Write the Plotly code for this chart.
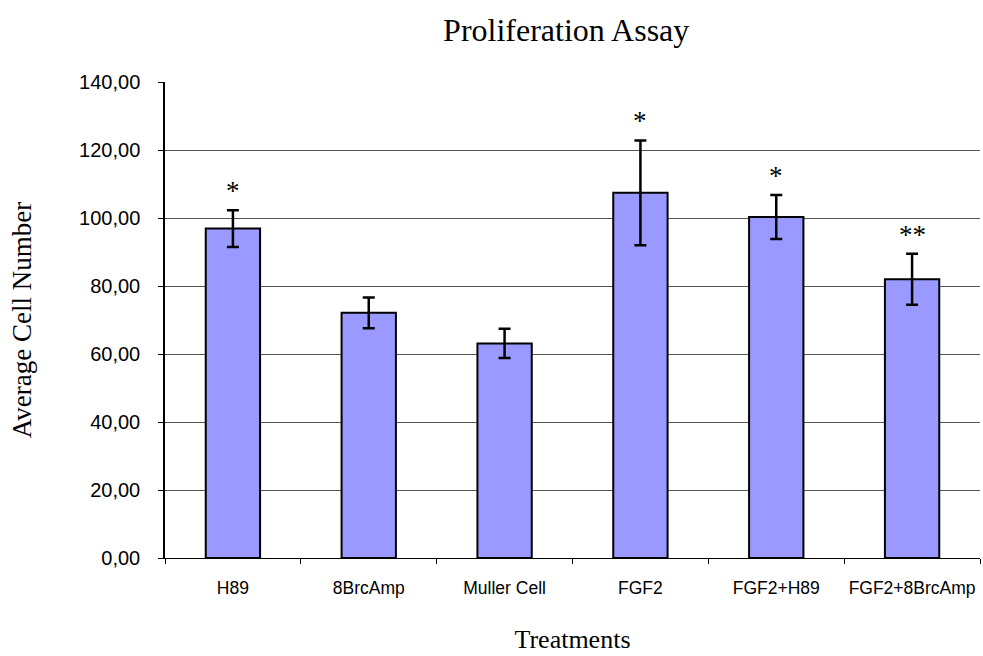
import plotly.graph_objects as go

categories = ["H89", "8BrcAmp", "Muller Cell", "FGF2", "FGF2+H89", "FGF2+8BrcAmp"]
means = [96.9, 72.1, 63.1, 107.4, 100.3, 82.0]
errors = [5.4, 4.5, 4.3, 15.4, 6.5, 7.5]
marks = ["*", "", "", "*", "*", "**"]
y_ticks = [0, 20, 40, 60, 80, 100, 120, 140]

fig = go.Figure()
fig.add_trace(go.Bar(
    x=categories, y=means,
    marker=dict(color="#9999FF", line=dict(color="black", width=2)),
    error_y=dict(type="data", array=errors, visible=True, color="black", thickness=2.5, width=6),
    width=0.4,
))

for c, m, e, s in zip(categories, means, errors, marks):
    if s:
        fig.add_annotation(x=c, y=m + e, text=s, showarrow=False, yanchor="bottom", yshift=2,
                           font=dict(family="Liberation Serif", size=27, color="black"))

fig.update_layout(
    width=983, height=656,
    margin=dict(l=165, r=3, t=82, b=98),
    paper_bgcolor="white", plot_bgcolor="white",
    separators=",.",
    showlegend=False,
    title=dict(text="Proliferation Assay", x=0.576, xanchor="center", y=0.954, yanchor="middle",
               font=dict(family="Liberation Serif", size=32, color="black")),
    xaxis=dict(
        title=dict(text="Treatments", font=dict(family="Liberation Serif", size=26, color="black"), standoff=32),
        tickfont=dict(family="Liberation Sans", size=17.5, color="black"),
        tickangle=0,
        showline=True, linecolor="black", linewidth=1,
        ticks="outside", ticklen=5, tickcolor="black", tickson="boundaries",
        ticklabelstandoff=14,
        showgrid=False, automargin=False,
    ),
    yaxis=dict(
        title=dict(text="Average Cell Number", font=dict(family="Liberation Serif", size=27, color="black"), standoff=40),
        tickfont=dict(family="Liberation Sans", size=20, color="black"),
        range=[0, 140], tickvals=y_ticks, tickformat=".2f",
        showline=True, linecolor="black", linewidth=1.5,
        ticks="outside", ticklen=5, tickcolor="black",
        ticklabelstandoff=14,
        showgrid=True, gridcolor="#555555", gridwidth=1,
        zeroline=False, automargin=False,
    ),
)

fig.write_html("out.html")
